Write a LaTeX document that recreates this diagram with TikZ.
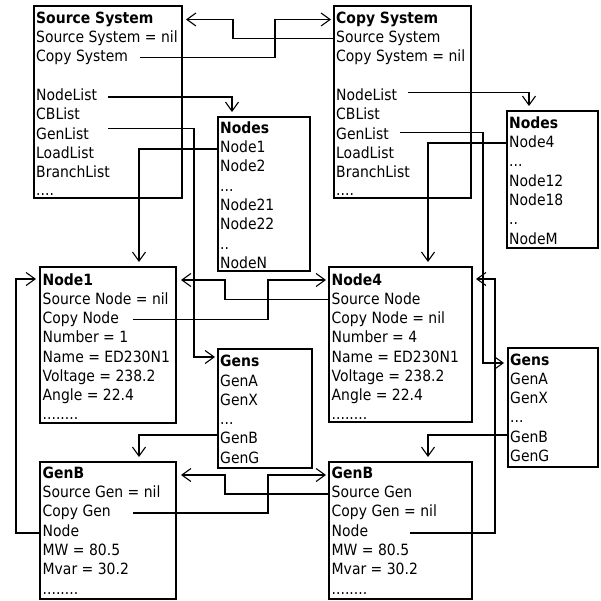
\documentclass[tikz,border=0pt]{standalone}
\usepackage{fontspec}
\setmainfont{DejaVu Sans}[FakeStretch=0.9]
\usetikzlibrary{arrows.meta}
\begin{document}
\begin{tikzpicture}[x=1pt,y=-1pt,
  box/.style={draw=black,line width=2.6pt,anchor=north west,inner sep=0pt,outer sep=0pt},
  txt/.style={anchor=base west,inner sep=0pt,font=\fontsize{15.5}{19.3}\selectfont},
  conn/.style={draw=black,line width=1.1pt,-{Straight Barb[length=9pt,width=13pt]}},
]
\useasboundingbox (0,0) rectangle (600,601);
% boxes
\node[box,minimum width=148,minimum height=192] (ss) at (34,6) {};
\node[box,minimum width=137,minimum height=192] (cs) at (334,6) {};
\node[box,minimum width=92,minimum height=154] (nl) at (218,117) {};
\node[box,minimum width=91,minimum height=137] (nr) at (507,111) {};
\node[box,minimum width=136,minimum height=156] (n1) at (40,267) {};
\node[box,minimum width=143,minimum height=155] (n4) at (329,267) {};
\node[box,minimum width=94,minimum height=119] (gl) at (218,349) {};
\node[box,minimum width=90,minimum height=119] (gr) at (508,348) {};
\node[box,minimum width=136,minimum height=137] (b1) at (40,462) {};
\node[box,minimum width=143,minimum height=137] (b4) at (329,462) {};
% Source System
\node[txt] (ss0) at (36,23.3) {\textbf{Source System}};
\node[txt] (ss1) at (36,42.6) {Source System = nil};
\node[txt] (ss2) at (36,61.9) {Copy System};
\node[txt] (ss4) at (36,100.5) {NodeList};
\node[txt] (ss5) at (36,119.8) {CBList};
\node[txt] (ss6) at (36,139.1) {GenList};
\node[txt] (ss7) at (36,158.4) {LoadList};
\node[txt] (ss8) at (36,177.7) {BranchList};
\node[txt] (ss9) at (36,196) {....};
% Copy System
\node[txt] (cs0) at (336,23.3) {\textbf{Copy System}};
\node[txt] (cs1) at (336,42.6) {Source System};
\node[txt] (cs2) at (336,61.9) {Copy System = nil};
\node[txt] (cs4) at (336,100.5) {NodeList};
\node[txt] (cs5) at (336,119.8) {CBList};
\node[txt] (cs6) at (336,139.1) {GenList};
\node[txt] (cs7) at (336,158.4) {LoadList};
\node[txt] (cs8) at (336,177.7) {BranchList};
\node[txt] (cs9) at (336,196) {....};
% Nodes left
\node[txt] (nl0) at (220,133.3) {\textbf{Nodes}};
\node[txt] (nl1) at (220,152.6) {Node1};
\node[txt] (nl2) at (220,171.9) {Node2};
\node[txt] (nl3) at (220,191.2) {...};
\node[txt] (nl4) at (220,210.5) {Node21};
\node[txt] (nl5) at (220,229.8) {Node22};
\node[txt] (nl6) at (220,249.1) {..};
\node[txt] (nl7) at (220,268.4) {NodeN};
% Nodes right
\node[txt] (nr0) at (509,128.3) {\textbf{Nodes}};
\node[txt] (nr1) at (509,147.6) {Node4};
\node[txt] (nr2) at (509,166.9) {...};
\node[txt] (nr3) at (509,186.2) {Node12};
\node[txt] (nr4) at (509,205.5) {Node18};
\node[txt] (nr5) at (509,224.8) {..};
\node[txt] (nr6) at (509,244.1) {NodeM};
% Node1
\node[txt] (n10) at (42.5,285) {\textbf{Node1}};
\node[txt] (n11) at (42.5,304.3) {Source Node = nil};
\node[txt] (n12) at (42.5,323.6) {Copy Node};
\node[txt] (n13) at (42.5,342.9) {Number = 1};
\node[txt] (n14) at (42.5,362.2) {Name = ED230N1};
\node[txt] (n15) at (42.5,381.5) {Voltage = 238.2};
\node[txt] (n16) at (42.5,400.8) {Angle = 22.4};
\node[txt] (n17) at (42.5,419.5) {........};
% Node4
\node[txt] (n40) at (331.5,285) {\textbf{Node4}};
\node[txt] (n41) at (331.5,304.3) {Source Node};
\node[txt] (n42) at (331.5,323.6) {Copy Node = nil};
\node[txt] (n43) at (331.5,342.9) {Number = 4};
\node[txt] (n44) at (331.5,362.2) {Name = ED230N1};
\node[txt] (n45) at (331.5,381.5) {Voltage = 238.2};
\node[txt] (n46) at (331.5,400.8) {Angle = 22.4};
\node[txt] (n47) at (331.5,419.5) {........};
% Gens left
\node[txt] (gl0) at (220,366.7) {\textbf{Gens}};
\node[txt] (gl1) at (220,386) {GenA};
\node[txt] (gl2) at (220,405.3) {GenX};
\node[txt] (gl3) at (220,424.6) {...};
\node[txt] (gl4) at (220,443.9) {GenB};
\node[txt] (gl5) at (220,463.2) {GenG};
% Gens right
\node[txt] (gr0) at (510,365) {\textbf{Gens}};
\node[txt] (gr1) at (510,384.3) {GenA};
\node[txt] (gr2) at (510,403.6) {GenX};
\node[txt] (gr3) at (510,422.9) {...};
\node[txt] (gr4) at (510,442.2) {GenB};
\node[txt] (gr5) at (510,461.5) {GenG};
% GenB left
\node[txt] (b10) at (42.5,478.3) {\textbf{GenB}};
\node[txt] (b11) at (42.5,497.6) {Source Gen = nil};
\node[txt] (b12) at (42.5,516.9) {Copy Gen};
\node[txt] (b13) at (42.5,536.2) {Node};
\node[txt] (b14) at (42.5,555.5) {MW = 80.5};
\node[txt] (b15) at (42.5,574.8) {Mvar = 30.2};
\node[txt] (b16) at (42.5,594) {........};
% GenB right
\node[txt] (b40) at (331.5,478.3) {\textbf{GenB}};
\node[txt] (b41) at (331.5,497.6) {Source Gen};
\node[txt] (b42) at (331.5,516.9) {Copy Gen = nil};
\node[txt] (b43) at (331.5,536.2) {Node};
\node[txt] (b44) at (331.5,555.5) {MW = 80.5};
\node[txt] (b45) at (331.5,574.8) {Mvar = 30.2};
\node[txt] (b46) at (331.5,594) {........};
% connector start points
\coordinate (c1) at (140,57.5);
\coordinate (c3) at (108,97);
\coordinate (c4) at (108,128.5);
\coordinate (c6) at (133,319.5);
\coordinate (c9) at (133,513);
\coordinate (c12) at (408,92.3);
\coordinate (c13) at (400,132.7);
\coordinate (c16) at (410,533);
% connectors
\draw[conn,shorten >=3pt] (c1) -- (275,57.5) -- (275,19.5) -- (cs.west |- 0,19.5);
\draw[conn,shorten >=4pt] (cs.west |- 0,38.3) -- (233,38.3) -- (233,19.5) -- (ss.east |- 0,19.5);
\draw[conn,shorten >=5pt] (c3) -- (232,97) -- (nl.north -| 232,0);
\draw[conn,shorten >=3pt] (c4) -- (194,128.5) -- (194,357) -- (gl.west |- 0,357);
\draw[conn,shorten >=5pt] (nl.west |- 0,149) -- (139,149) -- (n1.north -| 139,0);
\draw[conn,shorten >=3pt] (c6) -- (268,319.5) -- (268,280) -- (n4.west |- 0,280);
\draw[conn,shorten >=5pt] (n4.west |- 0,299.5) -- (225,299.5) -- (225,280) -- (n1.east |- 0,280);
\draw[conn,shorten >=5pt] (gl.west |- 0,435) -- (139,435) -- (b1.north -| 139,0);
\draw[conn,shorten >=3pt] (c9) -- (268,513) -- (268,475) -- (b4.west |- 0,475);
\draw[conn,shorten >=5pt] (b4.west |- 0,494) -- (225,494) -- (225,475) -- (b1.east |- 0,475);
\draw[conn,shorten >=4pt] (b1.west |- 0,533) -- (16,533) -- (16,279) -- (n1.west |- 0,279);
\draw[conn,shorten >=5pt] (c12) -- (529,92.3) -- (nr.north -| 529,0);
\draw[conn,shorten >=4pt] (c13) -- (483,132.7) -- (483,363) -- (gr.west |- 0,363);
\draw[conn,shorten >=5pt] (nr.west |- 0,143) -- (428,143) -- (n4.north -| 428,0);
\draw[conn,shorten >=5pt] (gr.west |- 0,435) -- (428,435) -- (b4.north -| 428,0);
\draw[conn,shorten >=4pt] (c16) -- (495,533) -- (495,279) -- (n4.east |- 0,279);
\end{tikzpicture}
\end{document}
